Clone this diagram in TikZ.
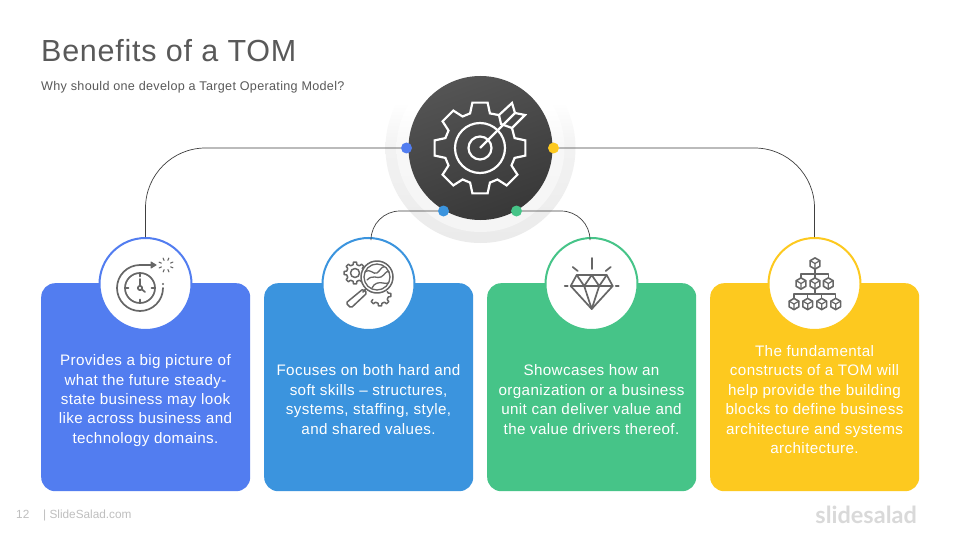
\documentclass[tikz,border=0pt]{standalone}
\usepackage{fontspec}
\setmainfont{Liberation Sans}
\newfontfamily\logofont{Lato}
\newfontfamily\spaced[LetterSpace=2.5]{Liberation Sans}
\newfontfamily\titlefont[LetterSpace=2.5]{Liberation Sans}
\usetikzlibrary{arrows.meta}
\definecolor{cardA}{HTML}{527DF0}
\definecolor{cardB}{HTML}{3B94DE}
\definecolor{cardC}{HTML}{46C488}
\definecolor{cardD}{HTML}{FDC91F}
\definecolor{iconc}{HTML}{666666}
\definecolor{titlec}{HTML}{595959}
\definecolor{footc}{HTML}{BFBFBF}
\pgfdeclareverticalshading{haloOut}{100bp}{color(0bp)=(black!8!white); color(25bp)=(black!8!white); color(50bp)=(black!5!white); color(62bp)=(white); color(100bp)=(white)}
\pgfdeclareverticalshading{haloIn}{100bp}{color(0bp)=(black!4!white); color(25bp)=(black!4!white); color(50bp)=(black!3!white); color(62bp)=(white); color(100bp)=(white)}
\tikzset{
  x=1pt,y=-1pt,
  card/.style={rounded corners=14pt,minimum width=209pt,minimum height=208pt,inner sep=0pt},
  badge/.style={circle,fill=white,line width=2pt,minimum size=92pt,inner sep=0pt},
  dotn/.style={circle,minimum size=11pt,inner sep=0pt},
  link/.style={line width=0.7pt,draw=black!75},
  body/.style={text=white,align=center,font=\spaced\fontsize{15.2}{19.4}\selectfont},
  ico/.style={draw=iconc,line width=1.7pt,line join=round,line cap=round},
  icow/.style={draw=white,line width=2.2pt,line join=miter,line cap=butt}
}
\begin{document}
\begin{tikzpicture}
\useasboundingbox (0,0) rectangle (960,540);
\fill[white] (0,0) rectangle (960,540);

\node[anchor=base west,inner sep=0pt,text=titlec,font=\titlefont\fontsize{30.5}{36}\selectfont] (title) at (41,62) {Benefits of a TOM};
\node[anchor=base west,inner sep=0pt,text=titlec,font=\spaced\fontsize{12.6}{15}\selectfont] (sub) at (41,91) {Why should one develop a Target Operating Model?};

% halo
\shade[shading=haloOut] (480.5,148) circle (95);
\shade[shading=haloIn] (480.5,148) circle (84);

% cards
\node[card,fill=cardA,anchor=north west] (cA) at (41,283) {};
\node[card,fill=cardB,anchor=north west] (cB) at (264,283) {};
\node[card,fill=cardC,anchor=north west] (cC) at (487,283) {};
\node[card,fill=cardD,anchor=north west] (cD) at (710,283) {};

\node[body] (tA) at (145.5,400.5) {Provides a big picture of\\what the future steady-\\state business may look\\like across business and\\technology domains.};
\node[body] (tB) at (368.5,399.5) {Focuses on both hard and\\soft skills – structures,\\systems, staffing, style,\\and shared values.};
\node[body] (tC) at (591.5,399.5) {Showcases how an\\organization or a business\\unit can deliver value and\\the value drivers thereof.};
\node[body] (tD) at (814.5,399.5) {The fundamental\\constructs of a TOM will\\help provide the building\\blocks to define business\\architecture and systems\\architecture.};

% badges
\node[badge,draw=cardA] (bA) at (145.5,284) {};
\node[badge,draw=cardB] (bB) at (368.5,284) {};
\node[badge,draw=cardC] (bC) at (591.5,284) {};
\node[badge,draw=cardD] (bD) at (814.5,284) {};

% hub
\node[circle,minimum size=144pt,inner sep=0pt,top color=black!67,bottom color=black!78,shading angle=20] (hub) at (480.5,148) {};

\node[dotn,fill=cardA] (dA) at (406.5,148) {};
\node[dotn,fill=cardD] (dD) at (553.5,148) {};
\node[dotn,fill=cardB] (dB) at (443.5,211) {};
\node[dotn,fill=cardC] (dC) at (516.5,211) {};
\coordinate (eB) at (371,239);
\coordinate (eC) at (590,239);

\draw[link,rounded corners=60pt] (dA.west) -| (bA.north);
\draw[link,rounded corners=60pt] (dD.east) -| (bD.north);
\draw[link,rounded corners=29pt] (dB.west) -| (eB);
\draw[link,rounded corners=29pt] (dC.east) -| (eC);

% hub icon
\begin{scope}[shift={(480,148)}]
\draw[icow] (-32:37.7)
  \foreach \a in {0,45,90,135,180,225,270} { -- ({\a-16}:36) -- ({\a-9.5}:46) -- ({\a+9.5}:46) -- ({\a+16}:36) }
  -- (300:38);
\draw[icow] (0,0) circle (25);
\draw[icow] (0,0) circle (11.5);
\draw[icow] (0,0) -- (35,-35);
\draw[icow] (21,-24) -- (19,-33) -- (32,-45) -- (35,-35) -- (45,-33) -- (32,-20) -- cycle;
\end{scope}

% icon A : clock
\begin{scope}[shift={(140,288)}]
\draw[ico] (0,0) circle (15);
\draw[ico] (0,0) circle (2.2);
\draw[ico] (0,-2) -- (0,-9);
\draw[ico] (1.8,1.3) -- (5,4);
\draw[ico] (0,-15) -- (0,-11.5) (0,15) -- (0,11.5) (-15,0) -- (-11.5,0) (15,0) -- (11.5,0);
\draw[ico] (23,0) arc[start angle=0,end angle=270,radius=23] -- (12,-23);
\fill[iconc,draw=iconc,line width=1pt,line join=round] (11,-26) -- (16,-23) -- (11,-20) -- cycle;
\fill[iconc] (23,-4) circle (1.1);
\foreach \a in {0,45,...,315}
  \draw[ico,line width=1.1pt] ([shift={(26,-23)}]\a+22:5) -- ([shift={(26,-23)}]\a+22:7.5);
\end{scope}

% icon B : gears and magnifier
\begin{scope}[shift={(355,273)}]
\draw[ico,line width=1.5pt] (20:9)
  \foreach \a in {45,90,135,180,225,270,315} { -- ({\a-13}:8.5) -- ({\a-8}:11) -- ({\a+8}:11) -- ({\a+13}:8.5) } ;
\draw[ico,line width=1.5pt] (0,0) circle (4.5);
\end{scope}
\begin{scope}[shift={(380,295)}]
\draw[ico,line width=1.5pt] (-25:8)
  \foreach \a in {0,45,90,135} { -- ({\a-13}:8.5) -- ({\a-8}:11) -- ({\a+8}:11) -- ({\a+13}:8.5) } ;
\end{scope}
\begin{scope}[shift={(377,277)}]
\draw[ico,fill=white,line width=1.5pt] (0,0) circle (16);
\draw[ico,line width=1.3pt] (0,0) circle (13);
\draw[ico,line width=1.3pt] (-12,-5) .. controls (-6,-9) and (-4,-2) .. (0,-4) .. controls (3,-6) and (5,-11) .. (7,-10);
\draw[ico,line width=1.3pt] (-10,3) .. controls (-4,-3) and (0,2) .. (4,0) .. controls (8,-2) and (9,-7) .. (12,-5);
\draw[ico,line width=1.3pt] (-5,11) .. controls (-3,6) and (2,5) .. (6,6) .. controls (8,6) and (10,7) .. (11,6);
\draw[ico,line width=1.5pt] (-11,12) -- (-14,15);
\draw[ico,line width=1.5pt,rounded corners=1.5pt] (-14,12) -- (-10,16) -- (-26,31) -- (-31,26) -- cycle;
\end{scope}

% icon C : diamond
\begin{scope}[shift={(591.7,286)}]
\draw[ico] (-15,-11) -- (15,-11) -- (21,0) -- (0,23) -- (-21,0) -- cycle;
\draw[ico] (-21,0) -- (21,0);
\draw[ico] (-15,-11) -- (-7.5,0) -- (0,-11) -- (7.5,0) -- (15,-11);
\draw[ico] (-7.5,0) -- (0,23) -- (7.5,0);
\draw[ico] (0,-28) -- (0,-17);
\draw[ico] (-19,-19) -- (-14,-15);
\draw[ico] (19,-19) -- (14,-15);
\draw[ico] (-27,0) -- (-24,0);
\draw[ico] (24,0) -- (27,0);
\end{scope}

% icon D : hierarchy of cubes
\newcommand{\cubeicon}[2]{%
\begin{scope}[shift={(#1,#2)}]
\draw[ico,line width=1.6pt] (90:5.6) -- (150:5.6) -- (210:5.6) -- (270:5.6) -- (330:5.6) -- (30:5.6) -- cycle;
\draw[ico,line width=1.2pt] (0,0) -- (0,5.6) (0,0) -- (-4.8,-2.8) (0,0) -- (4.8,-2.8);
\end{scope}}
\draw[ico,line width=1.3pt] (815,269) -- (815,278) (801,278) -- (801,274) -- (828.3,274) -- (828.3,278);
\draw[ico,line width=1.3pt] (815,289) -- (815,294) (794,298) -- (794,294) -- (835.7,294) -- (835.7,298) (807.7,298) -- (807.7,294) (821.7,298) -- (821.7,294);
\cubeicon{815}{263.5}
\cubeicon{801}{283.5}\cubeicon{815}{283.5}\cubeicon{828.3}{283.5}
\cubeicon{794}{304}\cubeicon{807.7}{304}\cubeicon{821.7}{304}\cubeicon{835.7}{304}

% footer
\node[anchor=base west,inner sep=0pt,text=footc,font=\fontsize{11.8}{14}\selectfont] (pg) at (16,518) {12};
\node[anchor=base west,inner sep=0pt,text=footc,font=\fontsize{11.8}{14}\selectfont] (ft) at (43,518) {| SlideSalad.com};
\node[anchor=base east,inner sep=0pt,text=black!15,font=\logofont\bfseries\fontsize{23.5}{28}\selectfont] (logo) at (917,523) {slidesalad};
\end{tikzpicture}
\end{document}
